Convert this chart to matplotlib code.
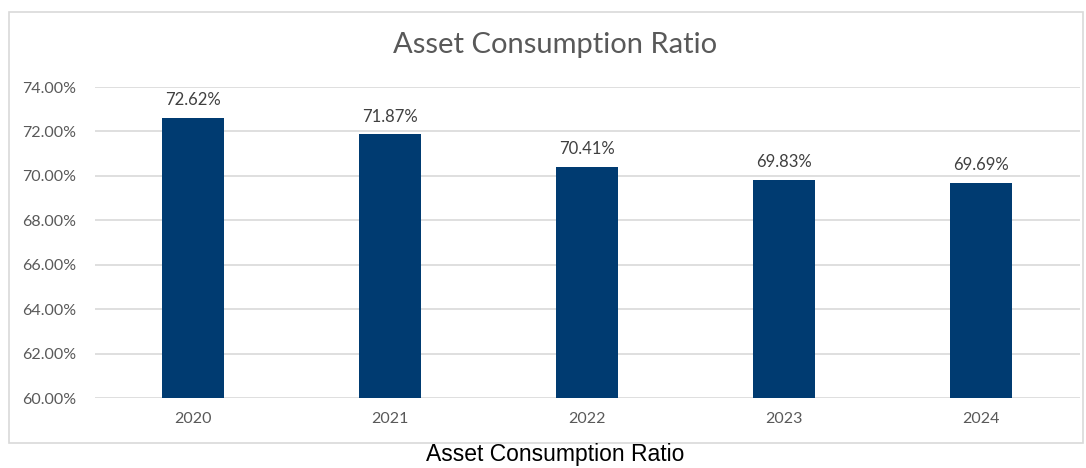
import matplotlib.pyplot as plt
from matplotlib.patches import Rectangle

years = ['2020', '2021', '2022', '2023', '2024']
ratios = [72.62, 71.87, 70.41, 69.83, 69.69]
y_ticks = [60, 62, 64, 66, 68, 70, 72, 74]

W, H = 1086, 468
fig = plt.figure(figsize=(W / 100, H / 100), dpi=100)
plt.rcParams['font.family'] = ['Lato', 'DejaVu Sans']

# chart border
fig.patches.append(Rectangle((9 / W, 1 - 443 / H), (1083 - 9) / W, (443 - 12) / H,
                             transform=fig.transFigure, fill=False,
                             edgecolor='#d9d9d9', linewidth=1.2))

ax = fig.add_axes([94.5 / W, 1 - 398 / H, (1079.5 - 94.5) / W, (398 - 87) / H])
x = range(len(years))
bars = ax.bar(x, ratios, width=0.315, color='#003b71', zorder=3)
ax.set_xlim(-0.5, len(years) - 0.5)
ax.set_ylim(60, 74)
ax.set_yticks(y_ticks)
ax.set_yticklabels([f'{t:.2f}%' for t in y_ticks])
ax.set_xticks(list(x))
ax.set_xticklabels(years)
ax.grid(axis='y', color='#d9d9d9', linewidth=1.2, zorder=0)
for s in ax.spines.values():
    s.set_visible(False)
ax.tick_params(length=0, labelsize=11.5, labelcolor='#595959')
ax.tick_params(axis='y', pad=13)
ax.tick_params(axis='x', pad=10)

for xi, v in zip(x, ratios):
    ax.annotate(f'{v:.2f}%', (xi, v), xytext=(0, 7), textcoords='offset points',
                ha='center', va='bottom', fontsize=12, color='#404040')

fig.text(555 / W, 1 - 45 / H, 'Asset Consumption Ratio', ha='center', va='center',
         fontsize=21, color='#595959')
fig.text(555 / W, 2 / H, 'Asset Consumption Ratio', ha='center', va='bottom',
         fontsize=16.5, color='black', family=['Liberation Sans', 'DejaVu Sans'])

fig.savefig('out.png', dpi=100)
